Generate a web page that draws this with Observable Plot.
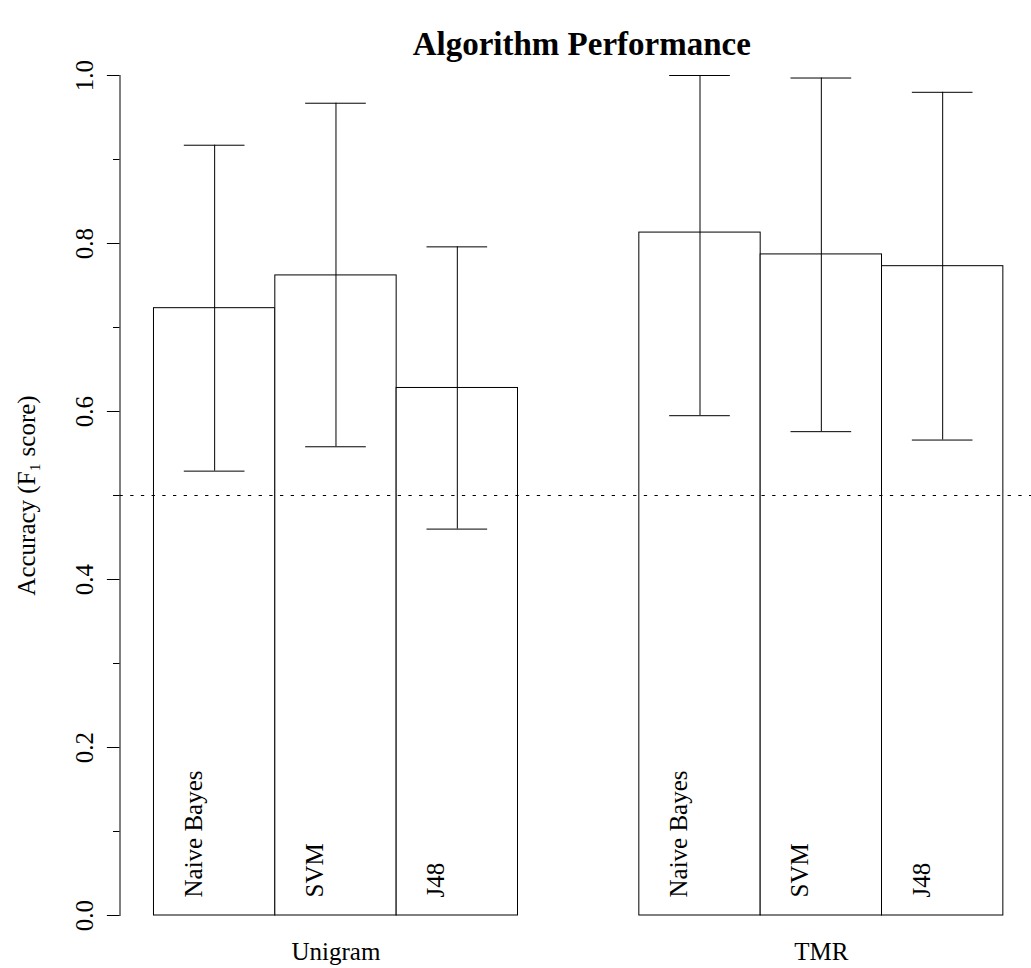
<!DOCTYPE html>
<html>
<head>
<meta charset="utf-8">
<script src="https://cdn.jsdelivr.net/npm/d3@7"></script>
<script src="https://cdn.jsdelivr.net/npm/@observablehq/plot@0.6"></script>
<style>
  html, body { margin: 0; padding: 0; background: white; overflow: hidden; }
  #chart svg { display: block; }
</style>
</head>
<body>
<div id="chart"></div>
<script>
const title = "Algorithm Performance";
const yLabel = "Accuracy (F\u2081 score)";
const groups = ["Unigram", "TMR"];
const algorithms = ["Naive Bayes", "SVM", "J48"];
const meanUnigram  = [0.723, 0.762, 0.628];
const upperUnigram = [0.917, 0.967, 0.796];
const lowerUnigram = [0.529, 0.558, 0.460];
const meanTMR  = [0.813, 0.787, 0.773];
const upperTMR = [1.000, 0.997, 0.980];
const lowerTMR = [0.595, 0.576, 0.566];
const yMajorTicks = [0, 0.2, 0.4, 0.6, 0.8, 1.0];
const yMinorTicks = [0.1, 0.3, 0.5, 0.7, 0.9];
const referenceLine = [0.5];

const means = [meanUnigram, meanTMR];
const uppers = [upperUnigram, upperTMR];
const lowers = [lowerUnigram, lowerTMR];

// barplot-style layout: one empty bar slot before each group
const rows = groups.flatMap((g, gi) => algorithms.map((a, ai) => ({
  group: g,
  algorithm: a,
  mean: means[gi][ai],
  upper: uppers[gi][ai],
  lower: lowers[gi][ai],
  pos: gi * (algorithms.length + 1) + ai + 1.5
})));
const groupRows = groups.map(g => ({
  group: g,
  pos: d3.mean(rows.filter(r => r.group === g), r => r.pos)
}));

const font = "'Liberation Serif', 'Times New Roman', serif";

const chart = Plot.plot({
  width: 1031,
  height: 968,
  marginTop: 75,
  marginBottom: 53,
  marginLeft: 119.5,
  marginRight: 0,
  style: { fontFamily: font, fontSize: "25px", background: "white", color: "black" },
  x: { domain: [0.72, 8.232], axis: null },
  y: { domain: [0, 1], label: null },
  marks: [
    Plot.rectY(rows, { x1: d => d.pos - 0.5, x2: d => d.pos + 0.5, y1: 0, y2: "mean", fill: "white", stroke: "black", strokeWidth: 1 }),
    Plot.ruleY(referenceLine, { stroke: "black", strokeWidth: 1.2, strokeDasharray: "3.3,7.4" }),
    Plot.ruleX(rows, { x: "pos", y1: "lower", y2: "upper", stroke: "black", strokeWidth: 1 }),
    Plot.ruleY(rows, { y: "upper", x1: d => d.pos - 0.25, x2: d => d.pos + 0.25, stroke: "black", strokeWidth: 1 }),
    Plot.ruleY(rows, { y: "lower", x1: d => d.pos - 0.25, x2: d => d.pos + 0.25, stroke: "black", strokeWidth: 1 }),
    Plot.text(rows, { x: "pos", y: 0, text: "algorithm", rotate: -90, textAnchor: "start", lineAnchor: "bottom", dx: -13, dy: -18, fontSize: 25, fill: "black" }),
    Plot.frame({ anchor: "left", stroke: "black", strokeWidth: 1 }),
    Plot.axisY(yMajorTicks, { tickSize: 12.6, tickFormat: () => "", label: null, stroke: "black" }),
    Plot.axisY(yMinorTicks, { tickSize: 6.5, tickFormat: () => "", label: null, stroke: "black" }),
    Plot.text(yMajorTicks, { y: d => d, text: d => d.toFixed(1), frameAnchor: "left", rotate: -90, textAnchor: "middle", lineAnchor: "bottom", dx: -27.5, fontSize: 25, fill: "black" }),
    Plot.text([yLabel], { text: d => d, frameAnchor: "left", rotate: -90, textAnchor: "middle", lineAnchor: "bottom", dx: -85, fontSize: 25, fill: "black" }),
    Plot.text(groupRows, { x: "pos", text: "group", frameAnchor: "bottom", lineAnchor: "bottom", dy: 44, fontSize: 25, fill: "black" }),
    Plot.text([title], { text: d => d, frameAnchor: "top", lineAnchor: "bottom", dy: -21, dx: 6, fontSize: 33, fontWeight: "bold", fill: "black", style: "letter-spacing:1.5px" })
  ]
});
document.getElementById("chart").append(chart);
</script>
</body>
</html>
